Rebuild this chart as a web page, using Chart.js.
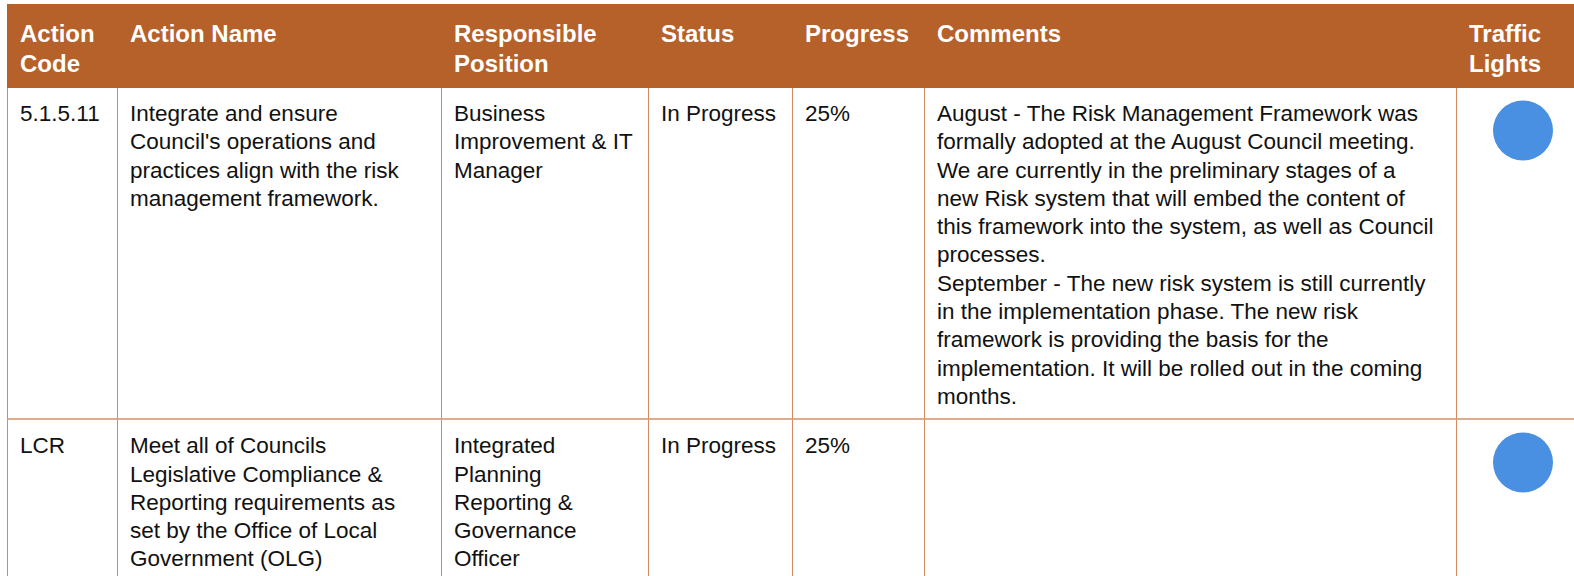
<!DOCTYPE html>
<html>
<head>
<meta charset="utf-8">
<script src="https://cdn.jsdelivr.net/npm/chart.js@4.4.1/dist/chart.umd.min.js"></script>
<style>
  html, body { margin: 0; padding: 0; background: #fff; overflow: hidden; width: 1574px; height: 576px; }
  table {
    position: absolute; left: 7px; top: 4px;
    border-collapse: separate; border-spacing: 0;
    table-layout: fixed; width: 1584px;
    font-family: "Liberation Sans", Arial, sans-serif;
  }
  th, td { box-sizing: border-box; vertical-align: top; text-align: left; white-space: nowrap; }
  th {
    background: #b6612a; color: #fff; font-weight: bold; font-size: 24px; line-height: 30px;
    padding: 15px 0 9px 12px; border-right: 1px solid #b6612a;
  }
  th:first-child { border-left: 1px solid #b6612a; }
  td {
    color: #111; font-size: 22.5px; line-height: 28.3px;
    padding: 12px 0 7px 12px;
    border-right: 1px solid #d18b5e; border-bottom: 2px solid #dfab8c;
  }
  td:first-child { border-left: 1px solid #d18b5e; }
  td.light { padding: 0; }
  td.light canvas { display: block; }
</style>
</head>
<body>
<table id="tbl">
  <colgroup>
    <col style="width:111px"><col style="width:324px"><col style="width:207px"><col style="width:144px">
    <col style="width:132px"><col style="width:532px"><col style="width:134px">
  </colgroup>
  <thead><tr id="head"></tr></thead>
  <tbody id="body"></tbody>
</table>
<script>
// Colonnes et lignes du tableau
const headers = ['Action<br>Code', 'Action Name', 'Responsible<br>Position', 'Status', 'Progress', 'Comments', 'Traffic<br>Lights'];
const actionCodes = ['5.1.5.11', 'LCR'];
const actionNames = [
  "Integrate and ensure<br>Council's operations and<br>practices align with the risk<br>management framework.",
  'Meet all of Councils<br>Legislative Compliance &amp;<br>Reporting requirements as<br>set by the Office of Local<br>Government (OLG)'
];
const positions = ['Business<br>Improvement &amp; IT<br>Manager', 'Integrated<br>Planning<br>Reporting &amp;<br>Governance<br>Officer'];
const statuses = ['In Progress', 'In Progress'];
const progress = [25, 25];
const comments = [
  'August - The Risk Management Framework was<br>formally adopted at the August Council meeting.<br>We are currently in the preliminary stages of a<br>new Risk system that will embed the content of<br>this framework into the system, as well as Council<br>processes.<br>September - The new risk system is still currently<br>in the implementation phase. The new risk<br>framework is providing the basis for the<br>implementation. It will be rolled out in the coming<br>months.',
  ''
];
const lightColors = { 'In Progress': '#4a90e2' };

// En-tête
document.getElementById('head').innerHTML = headers.map(h => `<th>${h}</th>`).join('');

// Lignes
const tbody = document.getElementById('body');
actionCodes.forEach((code, i) => {
  const tr = document.createElement('tr');
  tr.innerHTML = `<td>${code}</td><td>${actionNames[i]}</td><td>${positions[i]}</td>` +
    `<td>${statuses[i]}</td><td>${progress[i]}%</td><td>${comments[i]}</td>` +
    `<td class="light"><canvas id="light${i}" width="132" height="85"></canvas></td>`;
  tbody.appendChild(tr);
});

// Feux de signalisation : un camembert à une seule part par ligne
statuses.forEach((status, i) => {
  new Chart(document.getElementById('light' + i), {
    type: 'pie',
    data: {
      labels: [status],
      datasets: [{ data: [progress[i]], backgroundColor: lightColors[status], borderWidth: 0, radius: 30 }]
    },
    options: {
      responsive: false,
      animation: false,
      events: [],
      layout: { padding: 0 },
      plugins: { legend: { display: false }, tooltip: { enabled: false } }
    }
  });
});
</script>
</body>
</html>
